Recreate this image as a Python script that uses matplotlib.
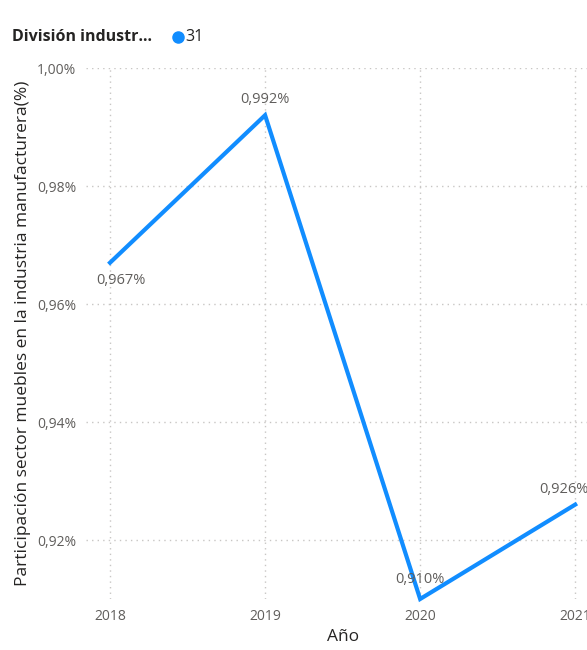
import matplotlib.pyplot as plt
from matplotlib.ticker import FuncFormatter

years = [2018, 2019, 2020, 2021]
values = [0.967, 0.992, 0.910, 0.926]
labels = ["0,967%", "0,992%", "0,910%", "0,926%"]
label_offsets = [(8, -13), (0, 11), (0, 14), (-8, 11)]
yticks = [0.92, 0.94, 0.96, 0.98, 1.00]

blue = "#118DFF"
grey = "#605E5C"
dark = "#252423"

plt.rcParams['font.family'] = ['Open Sans', 'DejaVu Sans']

fig = plt.figure(figsize=(5.87, 6.5), dpi=100)
ax = fig.add_axes([86 / 587, 1 - 599 / 650, (600 - 86) / 587, (599 - 68) / 650])

ax.plot(years, values, color=blue, linewidth=3, solid_joinstyle="miter", clip_on=False)
for x, y, t, off in zip(years, values, labels, label_offsets):
    ax.annotate(t, (x, y), xytext=off, textcoords="offset points",
                ha="center", va="center", fontsize=10.5, color=grey)

ax.set_xlim(2017.845, 2021.16)
ax.set_ylim(0.910, 1.000)
ax.set_xticks(years)
ax.set_yticks(yticks)
ax.yaxis.set_major_formatter(FuncFormatter(lambda v, p: f"{v:.2f}%".replace(".", ",")))
ax.tick_params(length=0, labelsize=10, labelcolor=grey, pad=7)
ax.grid(True, color="#C8C6C4", linestyle=(0, (1, 3)), linewidth=1)
for s in ax.spines.values():
    s.set_visible(False)

ax.set_xlabel("Año", fontsize=12.5, color=dark, labelpad=4)
ax.set_ylabel("Participación sector muebles en la industria manufacturera(%)",
              fontsize=12.5, color=dark, labelpad=4)

fig.text(12 / 587, 1 - 37 / 650, "División industr...", fontsize=11.5, fontweight="bold",
         color=dark, va="center")
fig.lines.append(plt.Line2D([178 / 587], [1 - 37 / 650], marker="o", markersize=8,
                            color=blue, transform=fig.transFigure))
fig.text(185 / 587, 1 - 37 / 650, "31", fontsize=11.5, color=dark, va="center")

fig.savefig("out.png", dpi=100)
